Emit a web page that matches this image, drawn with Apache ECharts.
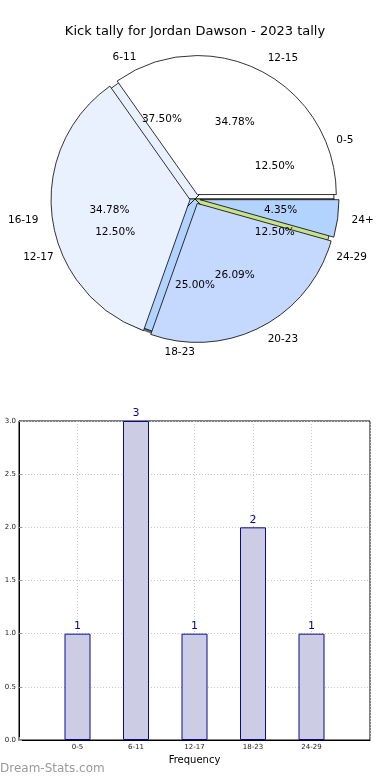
<!DOCTYPE html>
<html>
<head>
<meta charset="utf-8">
<script src="https://cdn.jsdelivr.net/npm/echarts@6/dist/echarts.min.js"></script>
<style>
html,body{margin:0;padding:0;background:#fff;}
#c{width:390px;height:780px;}
</style>
</head>
<body>
<div id="c"></div>
<script>
const chartTitle = 'Kick tally for Jordan Dawson - 2023 tally';
const innerCats = ['0-5', '6-11', '12-17', '18-23', '24-29'];
const innerVals = [1, 3, 1, 2, 1];
const innerColors = ['#ffffff', '#eaf1fe', '#c5d9ff', '#b3d3ff', '#c8e28c'];
const outerCats = ['12-15', '16-19', '20-23', '24+'];
const outerVals = [8, 8, 6, 1];
const outerColors = ['#ffffff', '#eaf1fe', '#c5d9ff', '#b3d3ff'];
const barCats = ['0-5', '6-11', '12-17', '18-23', '24-29'];
const barVals = [1, 3, 1, 2, 1];
const xAxisName = 'Frequency';
const watermark = 'Dream-Stats.com';

const FONT = 'DejaVu Sans';
const CX = 195, CY = 199, R = 139;

const chart = echarts.init(document.getElementById('c'), null, {renderer: 'canvas'});

function pieData(cats, vals, colors, extra) {
  return cats.map((c, i) => Object.assign({
    name: c, value: vals[i],
    itemStyle: {color: colors[i]}
  }, extra || {}));
}

const nameLabel = {
  show: true, position: 'outside', formatter: '{b}',
  fontFamily: FONT, fontSize: 10.5, color: '#000',
  distanceToLabelLine: 0
};
const nameLine = {show: false, length: Math.round(R * 0.1), length2: 0};

const pctLabel = {
  show: true, position: 'inside',
  formatter: p => p.percent.toFixed(2) + '%',
  fontFamily: FONT, fontSize: 10.5, color: '#000'
};

function pctSeries(cats, vals) {
  return {
    type: 'pie', silent: true, z: 10,
    center: [CX, CY], radius: [0, R * 1.2],
    startAngle: 0, clockwise: false, avoidLabelOverlap: false,
    percentPrecision: 2, minShowLabelAngle: 0,
    labelLayout: {hideOverlap: false},
    itemStyle: {color: 'rgba(0,0,0,0)', borderWidth: 0},
    label: pctLabel, labelLine: {show: false},
    data: pieData(cats, vals, cats.map(() => 'rgba(0,0,0,0)'))
  };
}

const option = {
  animation: false,
  title: {
    text: chartTitle, left: 'center', top: 20,
    textStyle: {fontFamily: FONT, fontSize: 13, fontWeight: 'normal', color: '#000'}
  },
  grid: {
    left: 19, right: 20, top: 421, bottom: 40,
    show: true, borderColor: '#000', borderWidth: 1, backgroundColor: 'transparent'
  },
  xAxis: {
    type: 'value', min: -1, max: 5, interval: 1,
    name: xAxisName, nameLocation: 'middle', nameGap: 15,
    nameTextStyle: {fontFamily: FONT, fontSize: 10, color: '#000'},
    axisLine: {show: true, onZero: false, lineStyle: {color: '#000', width: 1}},
    axisTick: {show: true, inside: true, length: 3, lineStyle: {color: '#999'}},
    axisLabel: {
      fontFamily: FONT, fontSize: 7, color: '#222', margin: 4,
      formatter: v => (Number.isInteger(v) && v >= 0 && v < barCats.length) ? barCats[v] : ''
    },
    splitLine: {show: true, lineStyle: {color: '#c8c8c8', type: [1, 2], width: 1}}
  },
  yAxis: {
    type: 'value', min: 0, max: 3, interval: 0.5,
    axisLine: {show: true, onZero: false, lineStyle: {color: '#000', width: 1}},
    axisTick: {show: true, inside: true, length: 3, lineStyle: {color: '#999'}},
    axisLabel: {fontFamily: FONT, fontSize: 7, color: '#222', margin: 3, formatter: v => v.toFixed(1)},
    splitLine: {show: true, lineStyle: {color: '#c8c8c8', type: [1, 2], width: 1}}
  },
  graphic: [{
    type: 'text', left: 0, top: 763,
    style: {text: watermark, fontFamily: FONT, fontSize: 12, fontWeight: 'normal', fill: '#9a9a9a'}
  }],
  series: [
    {
      type: 'pie', silent: true, z: 1,
      center: [CX - 2, CY + 2], radius: [0, R],
      startAngle: 0, clockwise: false,
      label: {show: false}, labelLine: {show: false},
      itemStyle: {color: '#6a6a6a', borderWidth: 0},
      data: pieData(innerCats, innerVals, innerCats.map(() => '#6a6a6a'))
    },
    {
      type: 'pie', silent: true, z: 2,
      center: [CX, CY], radius: [0, R],
      startAngle: 0, clockwise: false, avoidLabelOverlap: false,
      percentPrecision: 2, labelLayout: {hideOverlap: false},
      itemStyle: {borderColor: '#000', borderWidth: 0.8},
      label: nameLabel, labelLine: nameLine,
      data: pieData(innerCats, innerVals, innerColors)
    },
    {
      type: 'pie', silent: true, z: 3,
      center: [CX, CY], radius: [0, R],
      startAngle: 0, clockwise: false, avoidLabelOverlap: false,
      selectedMode: 'multiple', selectedOffset: 5,
      percentPrecision: 2, labelLayout: {hideOverlap: false},
      itemStyle: {borderColor: '#000', borderWidth: 0.8},
      label: nameLabel, labelLine: nameLine,
      data: pieData(outerCats, outerVals, outerColors, {selected: true})
    },
    pctSeries(innerCats, innerVals),
    pctSeries(outerCats, outerVals),
    {
      type: 'bar', barWidth: 26,
      data: barVals.map((v, i) => [i, v]),
      itemStyle: {color: '#ccccE4', borderColor: '#0a0a8a', borderWidth: 1},
      label: {show: true, position: 'top', distance: 2, fontFamily: FONT, fontSize: 11, color: '#0a0a8a',
        formatter: p => String(p.value[1])},
      z: 2
    }
  ]
};
chart.setOption(option);
</script>
</body>
</html>
